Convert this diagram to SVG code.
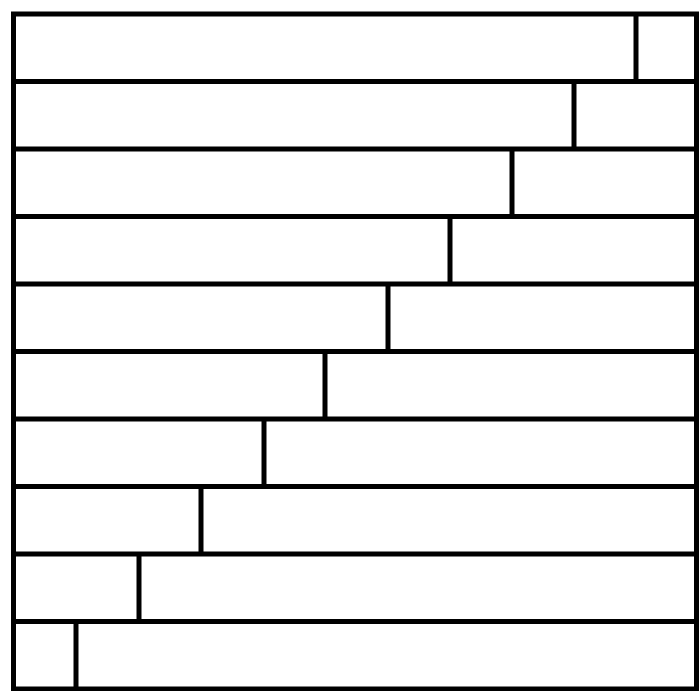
<svg xmlns="http://www.w3.org/2000/svg" width="699" height="691" viewBox="0 0 699 691">
<style>
.l{stroke:#000;stroke-width:5;fill:none}
</style>
<rect width="699" height="691" fill="#fff"/>
<g id="frame">
<rect class="l" x="13.5" y="14" width="683" height="675"/>
</g>
<g id="rows" class="l">
<line x1="13.5" y1="81.5" x2="696.5" y2="81.5"/>
<line x1="13.5" y1="149" x2="696.5" y2="149"/>
<line x1="13.5" y1="216.5" x2="696.5" y2="216.5"/>
<line x1="13.5" y1="284" x2="696.5" y2="284"/>
<line x1="13.5" y1="351.5" x2="696.5" y2="351.5"/>
<line x1="13.5" y1="419" x2="696.5" y2="419"/>
<line x1="13.5" y1="486.5" x2="696.5" y2="486.5"/>
<line x1="13.5" y1="554" x2="696.5" y2="554"/>
<line x1="13.5" y1="621.5" x2="696.5" y2="621.5"/>
</g>
<g id="splits" class="l">
<line x1="636" y1="14" x2="636" y2="81.5"/>
<line x1="574" y1="81.5" x2="574" y2="149"/>
<line x1="512" y1="149" x2="512" y2="216.5"/>
<line x1="450" y1="216.5" x2="450" y2="284"/>
<line x1="388" y1="284" x2="388" y2="351.5"/>
<line x1="325" y1="351.5" x2="325" y2="419"/>
<line x1="264" y1="419" x2="264" y2="486.5"/>
<line x1="201" y1="486.5" x2="201" y2="554"/>
<line x1="139" y1="554" x2="139" y2="621.5"/>
<line x1="76" y1="621.5" x2="76" y2="689"/>
</g>
</svg>
